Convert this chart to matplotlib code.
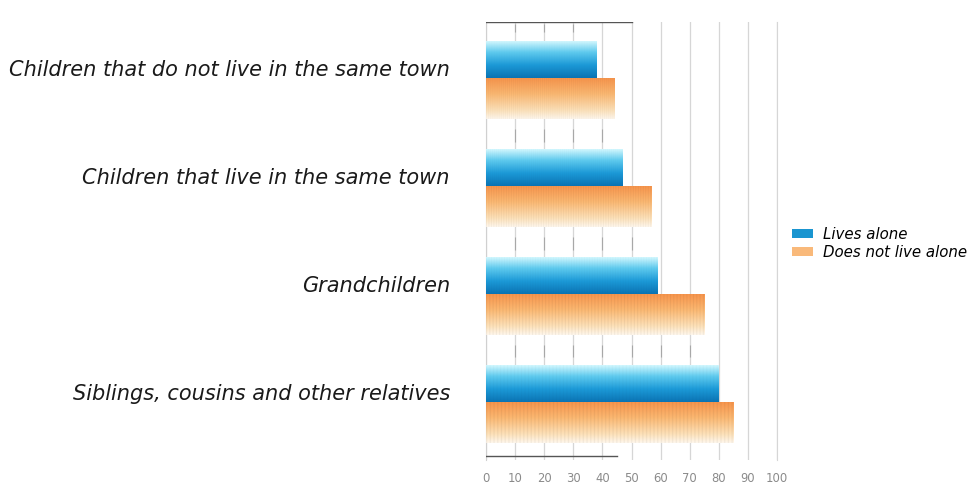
import matplotlib.pyplot as plt
import numpy as np
from matplotlib.patches import Patch
from matplotlib import font_manager

categories = [
    "Children that do not live in the same town",
    "Children that live in the same town",
    "Grandchildren",
    "Siblings, cousins and other relatives",
]
lives_alone = [38, 47, 59, 80]
not_alone = [44, 57, 75, 85]
x_ticks = list(range(0, 101, 10))

blue_stops = [(0.0, "#d2f8ff"), (0.3, "#5fcbef"), (0.65, "#1c9ad8"), (1.0, "#0b74b4")]
orange_stops = [(0.0, "#f7934a"), (0.4, "#fbb872"), (0.8, "#fde2bb"), (1.0, "#fff7ec")]


def hex_rgb(h):
    h = h.lstrip("#")
    return np.array([int(h[i:i + 2], 16) for i in (0, 2, 4)]) / 255.0


def gradient_image(stops, rows=80, cols=200, stripe_depth=0.03):
    pos = [s[0] for s in stops]
    cols_rgb = np.array([hex_rgb(s[1]) for s in stops])
    t = np.linspace(0, 1, rows)
    rgb = np.stack([np.interp(t, pos, cols_rgb[:, k]) for k in range(3)], axis=1)
    img = np.repeat(rgb[:, None, :], cols, axis=1)
    # faint vertical striping across the fill
    stripe = 1 - stripe_depth * (np.arange(cols) % 3 == 0)
    img = img * stripe[None, :, None]
    return np.clip(img, 0, 1)


def fill_bars(ax, bars, stops, stripe_depth):
    img = gradient_image(stops, stripe_depth=stripe_depth)
    for bar in bars:
        x0, y0 = bar.get_xy()
        w, hh = bar.get_width(), bar.get_height()
        im = ax.imshow(img, extent=[x0, x0 + w, y0 + hh, y0], origin="upper",
                       aspect="auto", zorder=3, interpolation="bilinear")
        im.set_clip_path(bar)


# narrow face for the axis numbers, if one is installed
names = {f.name for f in font_manager.fontManager.ttflist}
narrow = [n for n in ["Liberation Sans Narrow", "DejaVu Sans Condensed"] if n in names]
tick_family = narrow + ["DejaVu Sans"]

fig = plt.figure(figsize=(9.75, 4.87), dpi=100)
ax = fig.add_axes([0.4985, 0.0555, 0.2985, 0.8995])

y = np.arange(len(categories))
blue_bars = ax.barh(y - 0.17, lives_alone, height=0.34, color="none", zorder=3)
orange_bars = ax.barh(y + 0.19, not_alone, height=0.38, color="none", zorder=3)
fill_bars(ax, blue_bars, blue_stops, 0.02)
fill_bars(ax, orange_bars, orange_stops, 0.05)

# short darker grid segments in the gaps between groups
for g in range(len(categories) - 1):
    top = max(lives_alone[g], not_alone[g])
    for t in x_ticks[1:]:
        if t < top:
            ax.vlines(t, g + 0.47, g + 0.59, color="#a8a8a8", lw=0.8, zorder=2)
for t in x_ticks[1:4]:
    ax.vlines(t, -0.5, -0.43, color="#a8a8a8", lw=0.8, zorder=2)

ax.set_xlim(0, 100)
ax.set_ylim(3.54, -0.52)
ax.set_xticks(x_ticks)
ax.set_xticklabels([str(t) for t in x_ticks], family=tick_family,
                   stretch="condensed")
ax.set_yticks(y - 0.09)
ax.set_yticklabels(categories, fontstyle="italic", fontsize=15.0, color="#1a1a1a")
ax.tick_params(axis="y", length=0, pad=26)
ax.tick_params(axis="x", length=0, pad=9, labelsize=10.5 if narrow else 9.3,
               labelcolor="#8a8a8a")

ax.grid(axis="x", color="#d6d6d6", lw=0.9, zorder=1)
ax.set_axisbelow(True)
for side in ["top", "bottom"]:
    ax.spines[side].set_visible(False)
ax.spines["left"].set_color("#d0d0d0")
ax.spines["right"].set_color("#d6d6d6")
ax.axhline(-0.52, xmax=0.5, color="#555555", lw=1, zorder=4)
ax.axhline(3.5, xmax=0.45, color="#555555", lw=1, zorder=4)

handles = [Patch(facecolor="#1a95d0", edgecolor="none", label="Lives alone"),
           Patch(facecolor="#f9b97a", edgecolor="none", label="Does not live alone")]
fig.legend(handles=handles, loc="upper left", bbox_to_anchor=(0.798, 0.562),
           frameon=False, prop={"style": "italic", "size": 10.8},
           handlelength=1.4, handleheight=0.5, handletextpad=0.7, labelspacing=0.2)

fig.savefig("out.png", dpi=100)
